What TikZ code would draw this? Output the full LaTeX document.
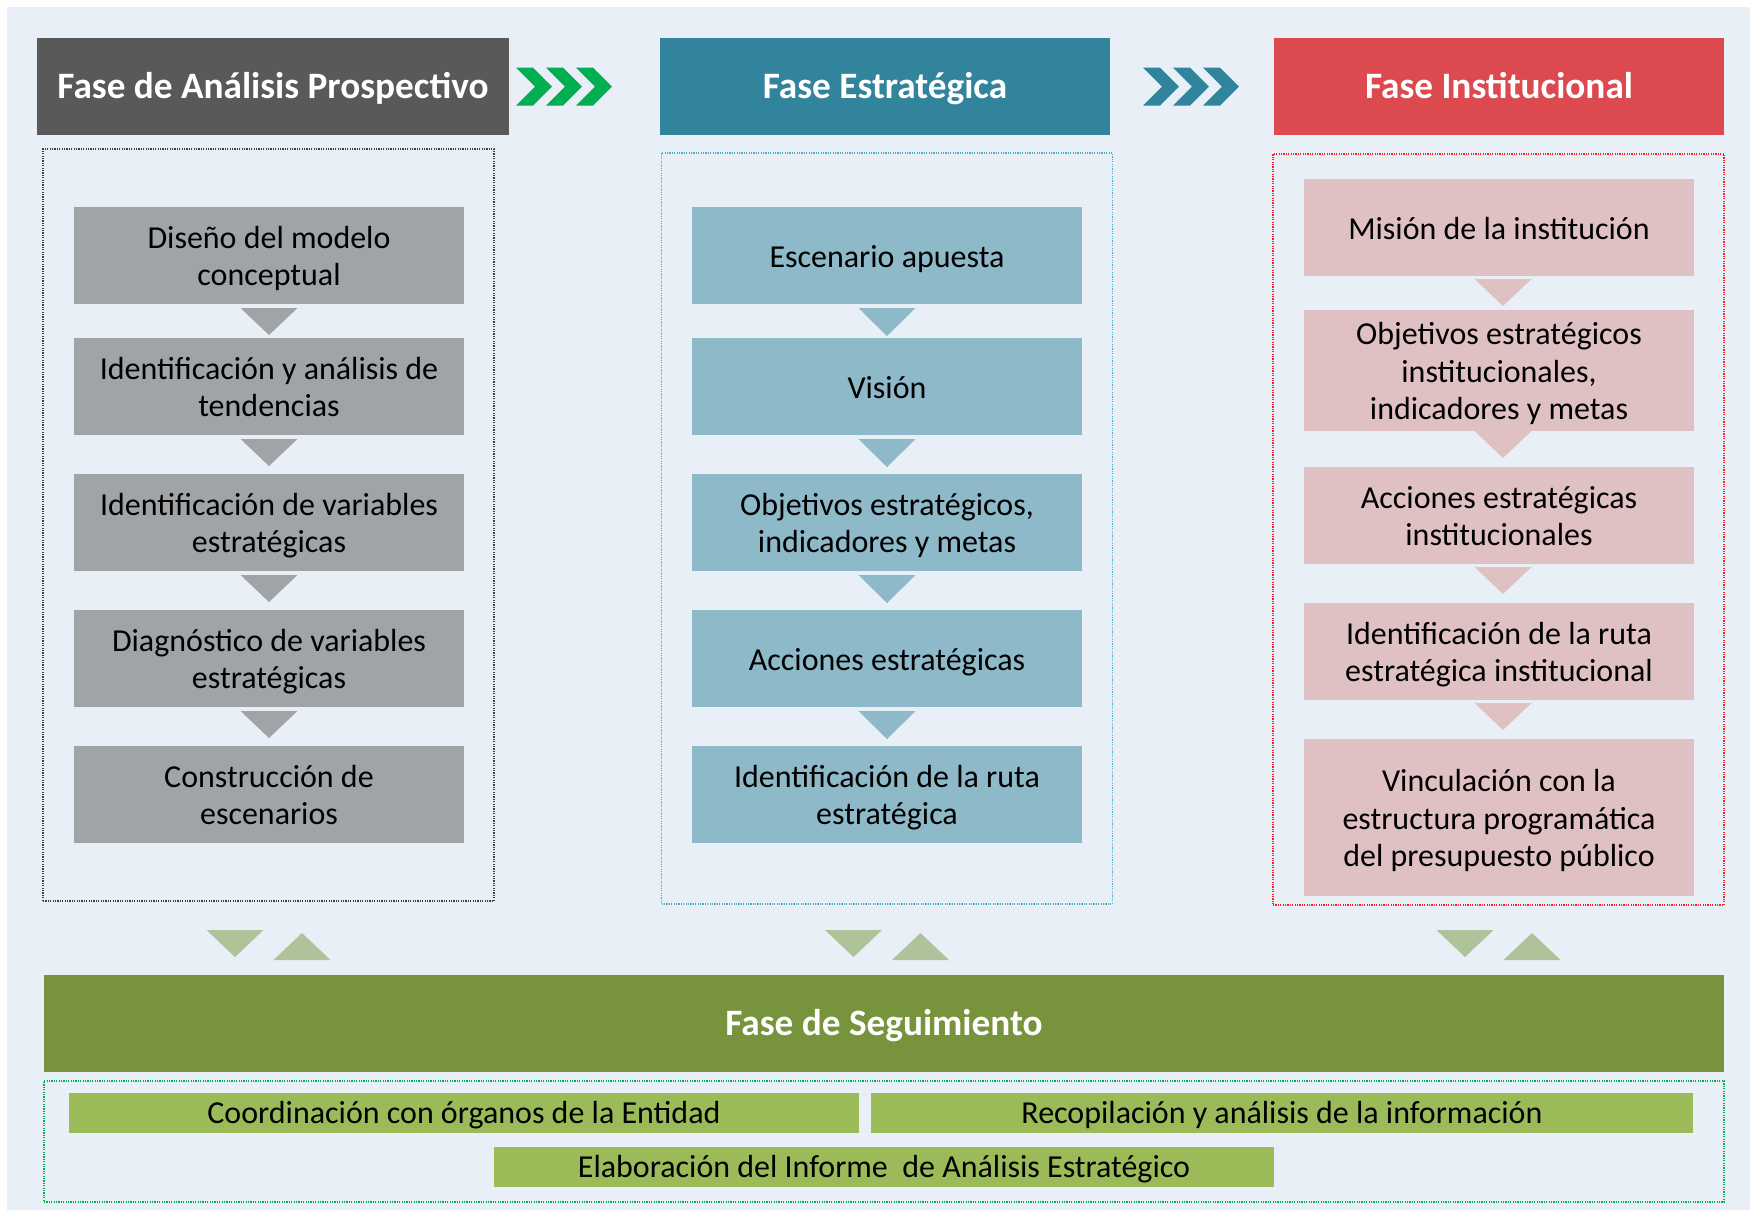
\documentclass[tikz,border=0pt]{standalone}
\usepackage{fontspec}
\setmainfont{Carlito}
\usepackage{xcolor}
\usetikzlibrary{positioning,calc}
\definecolor{bgBlue}{HTML}{E9EFF7}
\definecolor{hdGray}{HTML}{595959}
\definecolor{hdTeal}{HTML}{31849B}
\definecolor{hdRed}{HTML}{DC4A50}
\definecolor{chevGreen}{HTML}{00B050}
\definecolor{boxGray}{HTML}{A1A4A7}
\definecolor{boxTeal}{HTML}{8DB9C9}
\definecolor{boxPink}{HTML}{E0C1C3}
\definecolor{segGreen}{HTML}{77933C}
\definecolor{subGreen}{HTML}{9BBB59}
\definecolor{triGreen}{HTML}{AFC39B}
\definecolor{dotGray}{HTML}{404040}
\definecolor{dotTeal}{HTML}{4BACC6}
\definecolor{dotRed}{HTML}{FF2020}
\definecolor{dotGreen}{HTML}{00B050}
\tikzset{
  phase/.style={fill=#1,text=white,font=\fontsize{10.6}{12.5}\selectfont\bfseries,text height=8.8pt,text depth=1.8pt,minimum height=9.7mm,inner sep=0pt,outer sep=0pt},
  panel/.style={draw=#1,line width=0.12mm,dash pattern=on 0.12mm off 0.12mm,minimum width=45.1mm,inner sep=0pt},
  stepbox/.style={fill=#1,align=center,minimum width=39mm,minimum height=9.7mm,inner sep=0pt,outer sep=0pt,text height=8.6pt,text depth=2pt,font=\fontsize{9.1}{10.6}\selectfont},
  twolines/.style={text height=19.2pt},
  threelines/.style={text height=29.8pt},
  subbox/.style={fill=subGreen,minimum height=4mm,inner sep=0pt,outer sep=0pt,text height=7.8pt,text depth=2pt,font=\fontsize{9.1}{10.6}\selectfont}
}
\begin{document}
\begin{tikzpicture}[x=0.1mm,y=-0.1mm,node distance=3.9mm]
  \useasboundingbox (0,0) rectangle (1750,1210);
  \fill[bgBlue] (7,7) rectangle (1750,1210);

  % phase headers
  \node (h1) [phase=hdGray,minimum width=47.2mm] at (273,86.5) {Fase de Análisis Prospectivo};
  \node (h2) [phase=hdTeal,minimum width=45mm] at (885,86.5) {Fase Estratégica};
  \node (h3) [phase=hdRed,minimum width=45mm] at (1499,86.5) {Fase Institucional};

  \foreach \dx in {0,30,60}
    \fill[chevGreen] ($(h1.east)+(7+\dx,-19)$) -- ++(17,0) -- ++(19,19) -- ++(-19,19) -- ++(-17,0) -- ++(19,-19) -- cycle;
  \foreach \dx in {0,30,60}
    \fill[hdTeal] ($(h2.east)+(33+\dx,-19)$) -- ++(17,0) -- ++(19,19) -- ++(-19,19) -- ++(-17,0) -- ++(19,-19) -- cycle;

  % dotted panels
  \node (pan1) [panel=dotGray,minimum height=75.2mm] at (268.5,525) {};
  \node (pan2) [panel=dotTeal,minimum height=75.1mm] at (887,528.5) {};
  \node (pan3) [panel=dotRed,minimum height=75.1mm] at (1498.5,529.5) {};

  % analisis prospectivo
  \node (a1) [stepbox=boxGray,twolines] at (269,255.5) {Diseño del modelo\\conceptual};
  \node (a2) [stepbox=boxGray,twolines,below=3.4mm of a1] {Identificación y análisis de\\tendencias};
  \node (a3) [stepbox=boxGray,twolines,below=of a2] {Identificación de variables\\estratégicas};
  \node (a4) [stepbox=boxGray,twolines,below=of a3] {Diagnóstico de variables\\estratégicas};
  \node (a5) [stepbox=boxGray,twolines,below=of a4] {Construcción de\\escenarios};

  % estrategica
  \node (e1) [stepbox=boxTeal] at (887,255.5) {Escenario apuesta};
  \node (e2) [stepbox=boxTeal,below=3.4mm of e1] {Visión};
  \node (e3) [stepbox=boxTeal,twolines,below=of e2] {Objetivos estratégicos,\\indicadores y metas};
  \node (e4) [stepbox=boxTeal,below=of e3] {Acciones estratégicas};
  \node (e5) [stepbox=boxTeal,twolines,below=of e4] {Identificación de la ruta\\estratégica};

  % institucional
  \node (i1) [stepbox=boxPink] at (1499,227.5) {Misión de la institución};
  \node (i2) [stepbox=boxPink,threelines,minimum height=12.1mm,below=3.4mm of i1] {Objetivos estratégicos\\institucionales,\\indicadores y metas};
  \node (i3) [stepbox=boxPink,twolines,below=3.6mm of i2] {Acciones estratégicas\\institucionales};
  \node (i4) [stepbox=boxPink,twolines,below=of i3] {Identificación de la ruta\\estratégica institucional};
  \node (i5) [stepbox=boxPink,threelines,minimum height=15.7mm,below=of i4] {Vinculación con la\\estructura programática\\del presupuesto público};

  \foreach \n in {a1,a2,a3,a4}
    \fill[boxGray] ($(\n.south)+(-28.5,4)$) -- ++(57,0) -- ++(-28.5,27) -- cycle;
  \foreach \n in {e1,e2,e3,e4}
    \fill[boxTeal] ($(\n.south)+(-28.5,4)$) -- ++(57,0) -- ++(-28.5,28) -- cycle;
  \foreach \n/\gap in {i1/3,i2/0,i3/3,i4/3}
    \fill[boxPink] ($(\n.south)+(-24.5,\gap)$) -- ++(57,0) -- ++(-28.5,27) -- cycle;

  % seguimiento
  \node (seg) [phase=segGreen,minimum width=168mm] at (884,1023.5) {Fase de Seguimiento};
  \node (segpan) [panel=dotGreen,minimum width=168mm,minimum height=12.1mm] at (884,1141.5) {};
  \node (coord) [subbox,minimum width=79mm] at (464,1113) {Coordinación con órganos de la Entidad};
  \node (recop) [subbox,minimum width=82.2mm,right=1.2mm of coord] {Recopilación y análisis de la información};
  \node (elab) [subbox,minimum width=78mm] at (884,1167) {Elaboración del Informe~ de Análisis Estratégico};

  \foreach \p in {pan1,pan2,pan3}{
    \fill[triGreen] ($(\p.south |- seg.north)+(-62,-45)$) -- ++(57,0) -- ++(-28.5,27) -- cycle;
    \fill[triGreen] ($(\p.south |- seg.north)+(5,-15)$) -- ++(57,0) -- ++(-28.5,-27) -- cycle;
  }
\end{tikzpicture}
\end{document}
